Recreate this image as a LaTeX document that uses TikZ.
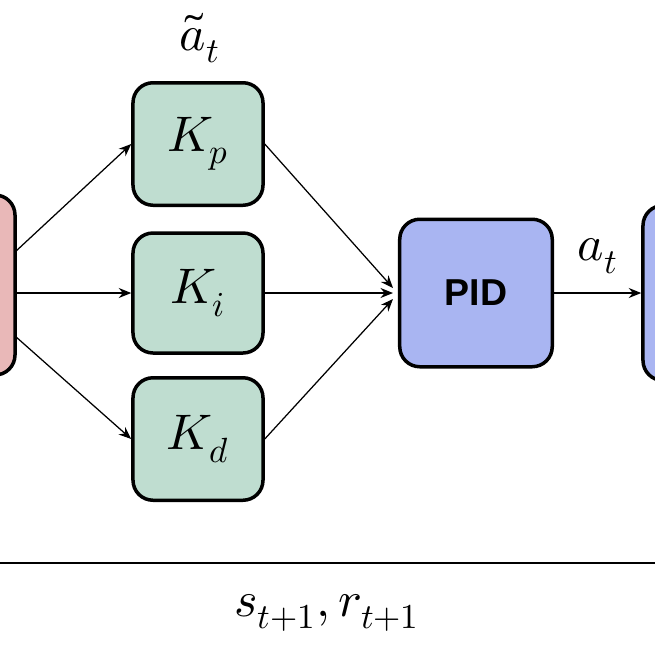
\documentclass[tikz,border=0pt]{standalone}
\usetikzlibrary{arrows.meta}
\usepackage{fontspec}
\setmainfont{Liberation Sans}
\usepackage{unicode-math}
\setmathfont{Latin Modern Math}
\begin{document}
\begin{tikzpicture}[x=0.4pt,y=-0.4pt,
  box/.style={draw=black,line width=1.4pt,rounded corners=8pt,inner sep=0pt},
  arr/.style={-{Stealth[length=5pt,width=4pt]},line width=0.5pt},
  lab/.style={font=\fontsize{20}{24}\selectfont}]
\useasboundingbox (0,0) rectangle (655,655);
\clip (0,0) rectangle (655,655);
\node[box,fill={rgb,255:red,233;green,184;blue,184},minimum width=120pt,minimum height=72pt] (env) at (-135,285) {};
\node[box,fill={rgb,255:red,169;green,181;blue,242},minimum width=120pt,minimum height=70pt] (agent) at (793,293) {};
\node[box,fill={rgb,255:red,191;green,221;blue,208},minimum width=52pt,minimum height=49pt,lab] (kp) at (198,144) {$K_p$};
\node[box,fill={rgb,255:red,191;green,221;blue,208},minimum width=52pt,minimum height=48pt,lab] (ki) at (198,293) {$K_i$};
\node[box,fill={rgb,255:red,191;green,221;blue,208},minimum width=52pt,minimum height=49pt,lab] (kd) at (198,439) {$K_d$};
\node[box,fill={rgb,255:red,169;green,181;blue,242},minimum width=61pt,minimum height=59pt,font=\fontsize{15}{18}\selectfont\bfseries] (pid) at (476,293) {PID};
\node[lab] (at) at (200,38) {$\tilde a_t$};
\node[lab] (a) at (598,256) {$a_t$};
\node[lab] (sr) at (327,613) {$s_{t+1}, r_{t+1}$};
\coordinate (e1) at (15,252);
\coordinate (e2) at (15,293);
\coordinate (e3) at (15,336);
\coordinate (p1) at (393,288);
\coordinate (p2) at (393,293);
\coordinate (p3) at (393,299);
\coordinate (l1) at (0,563);
\coordinate (l2) at (655,563);
\draw[arr] (e1) -- (kp.west);
\draw[arr] (e2) -- (ki.west);
\draw[arr] (e3) -- (kd.west);
\draw[arr] (kp.east) -- (p1);
\draw[arr] (ki.east) -- (p2);
\draw[arr] (kd.east) -- (p3);
\draw[arr] (pid.east) -- (agent.west);
\draw[line width=0.6pt] (l1) -- (l2);
\end{tikzpicture}
\end{document}
